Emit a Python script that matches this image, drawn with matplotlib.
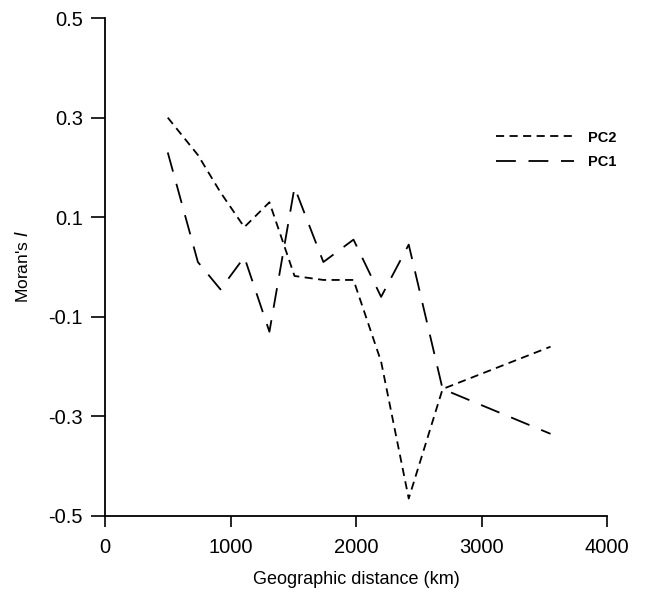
import matplotlib
matplotlib.use("Agg")
import matplotlib.pyplot as plt

# data
distance = [500, 740, 920, 1110, 1310, 1510, 1740, 1980, 2200, 2420, 2690, 3550]
pc2 = [0.30, 0.225, 0.15, 0.08, 0.13, -0.018, -0.026, -0.026, -0.19, -0.465, -0.245, -0.16]
pc1 = [0.23, 0.01, -0.045, 0.02, -0.13, 0.16, 0.01, 0.055, -0.06, 0.045, -0.245, -0.335]

xticks = [0, 1000, 2000, 3000, 4000]
yticks = [-0.5, -0.3, -0.1, 0.1, 0.3, 0.5]

plt.rcParams['font.family'] = ['Liberation Sans', 'DejaVu Sans']
plt.rcParams['axes.unicode_minus'] = False

fig = plt.figure(figsize=(6.49, 5.97), dpi=100)
ax = fig.add_axes([0.1618, 0.1357, 0.7735, 0.8341])

ax.plot(distance, pc2, color='black', lw=1.3, dashes=(4.5, 3), label='PC2')
ax.plot(distance, pc1, color='black', lw=1.3, dashes=(11, 7), label='PC1')

ax.set_xlim(0, 4000)
ax.set_ylim(-0.5, 0.5)
ax.set_xticks(xticks)
ax.set_yticks(yticks)
ax.set_yticklabels([f"{v:.1f}" for v in yticks])

for s in ['top', 'right']:
    ax.spines[s].set_visible(False)
for s in ['left', 'bottom']:
    ax.spines[s].set_linewidth(1.3)

ax.tick_params(axis='both', direction='out', width=1.2, labelsize=14.5)
ax.tick_params(axis='y', length=10, pad=6)
ax.tick_params(axis='x', length=8, pad=8)

ax.set_xlabel("Geographic distance (km)", fontsize=13, labelpad=10)
ax.set_ylabel("Moran's $\\it{I}$", fontsize=12.5, labelpad=12)

leg = ax.legend(loc='center left', bbox_to_anchor=(0.765, 0.735), frameon=False,
                borderpad=0, handlelength=5.3, handletextpad=1.0, labelspacing=0.75,
                prop={'weight': 'bold', 'size': 10.5})

fig.savefig("out.png", dpi=100)
